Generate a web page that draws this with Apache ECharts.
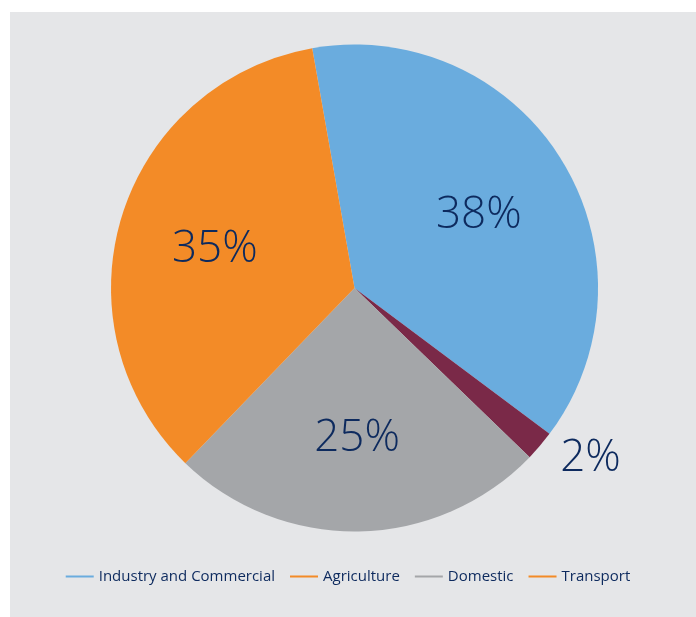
<!DOCTYPE html>
<html>
<head>
<meta charset="utf-8">
<style>
  html, body { margin: 0; padding: 0; background: #ffffff; }
  #chart { width: 696px; height: 617px; }
</style>
<script src="https://cdn.jsdelivr.net/npm/echarts@6/dist/echarts.min.js"></script>
</head>
<body>
<div id="chart"></div>
<script>
// Share of use by sector (%)
const sectors = ['Industry and Commercial', 'Agriculture', 'Domestic', 'Transport'];
const shares = [38, 2, 25, 35];
const sliceColors = ['#6aacde', '#7a2948', '#a4a6a9', '#f38b27'];
const legendColors = ['#6aacde', '#f38b27', '#a4a6a9', '#f38b27'];

const textColor = '#0d2a5e';
const fontFamily = '"Open Sans", "Noto Sans", sans-serif';

const chart = echarts.init(document.getElementById('chart'), null, { renderer: 'canvas' });

const sliceData = sectors.map((name, i) => ({
  name,
  value: shares[i],
  itemStyle: { color: sliceColors[i] },
  // the smallest slice gets its label outside the pie
  label: shares[i] < 5
    ? { show: true, position: 'outside', distance: 0 }
    : { show: false }
}));

const labelRingData = sectors.map((name, i) => ({
  name,
  value: shares[i],
  label: { show: shares[i] >= 5 }
}));

chart.setOption({
  backgroundColor: '#ffffff',
  graphic: [{
    type: 'rect',
    z: -10,
    shape: { x: 10, y: 12, width: 686, height: 605 },
    style: { fill: '#e5e6e8' },
    silent: true
  }],
  legend: {
    bottom: 28,
    left: 'center',
    icon: 'rect',
    itemWidth: 28,
    itemHeight: 2,
    itemGap: 15,
    textStyle: { color: textColor, fontSize: 15, fontFamily },
    data: sectors.map((name, i) => ({
      name,
      itemStyle: { color: legendColors[i] }
    }))
  },
  series: [
    {
      type: 'pie',
      center: [354.5, 288],
      radius: [0, 243.5],
      startAngle: 100,
      clockwise: true,
      avoidLabelOverlap: false,
      animation: false,
      label: {
        formatter: '{c}%',
        color: textColor,
        fontSize: 44,
        fontWeight: 300,
        fontFamily
      },
      labelLine: { show: true, length: 20, length2: 0, lineStyle: { opacity: 0 } },
      emphasis: { disabled: true },
      data: sliceData
    },
    {
      // transparent ring used only to place the in-slice percentage labels
      type: 'pie',
      center: [354.5, 292],
      radius: [0, 286],
      startAngle: 100,
      clockwise: true,
      silent: true,
      animation: false,
      avoidLabelOverlap: false,
      itemStyle: { color: 'rgba(0,0,0,0)' },
      label: {
        position: 'inside',
        formatter: '{c}%',
        color: textColor,
        fontSize: 44,
        fontWeight: 300,
        fontFamily
      },
      labelLine: { show: false },
      emphasis: { disabled: true },
      data: labelRingData
    }
  ]
});
</script>
</body>
</html>
